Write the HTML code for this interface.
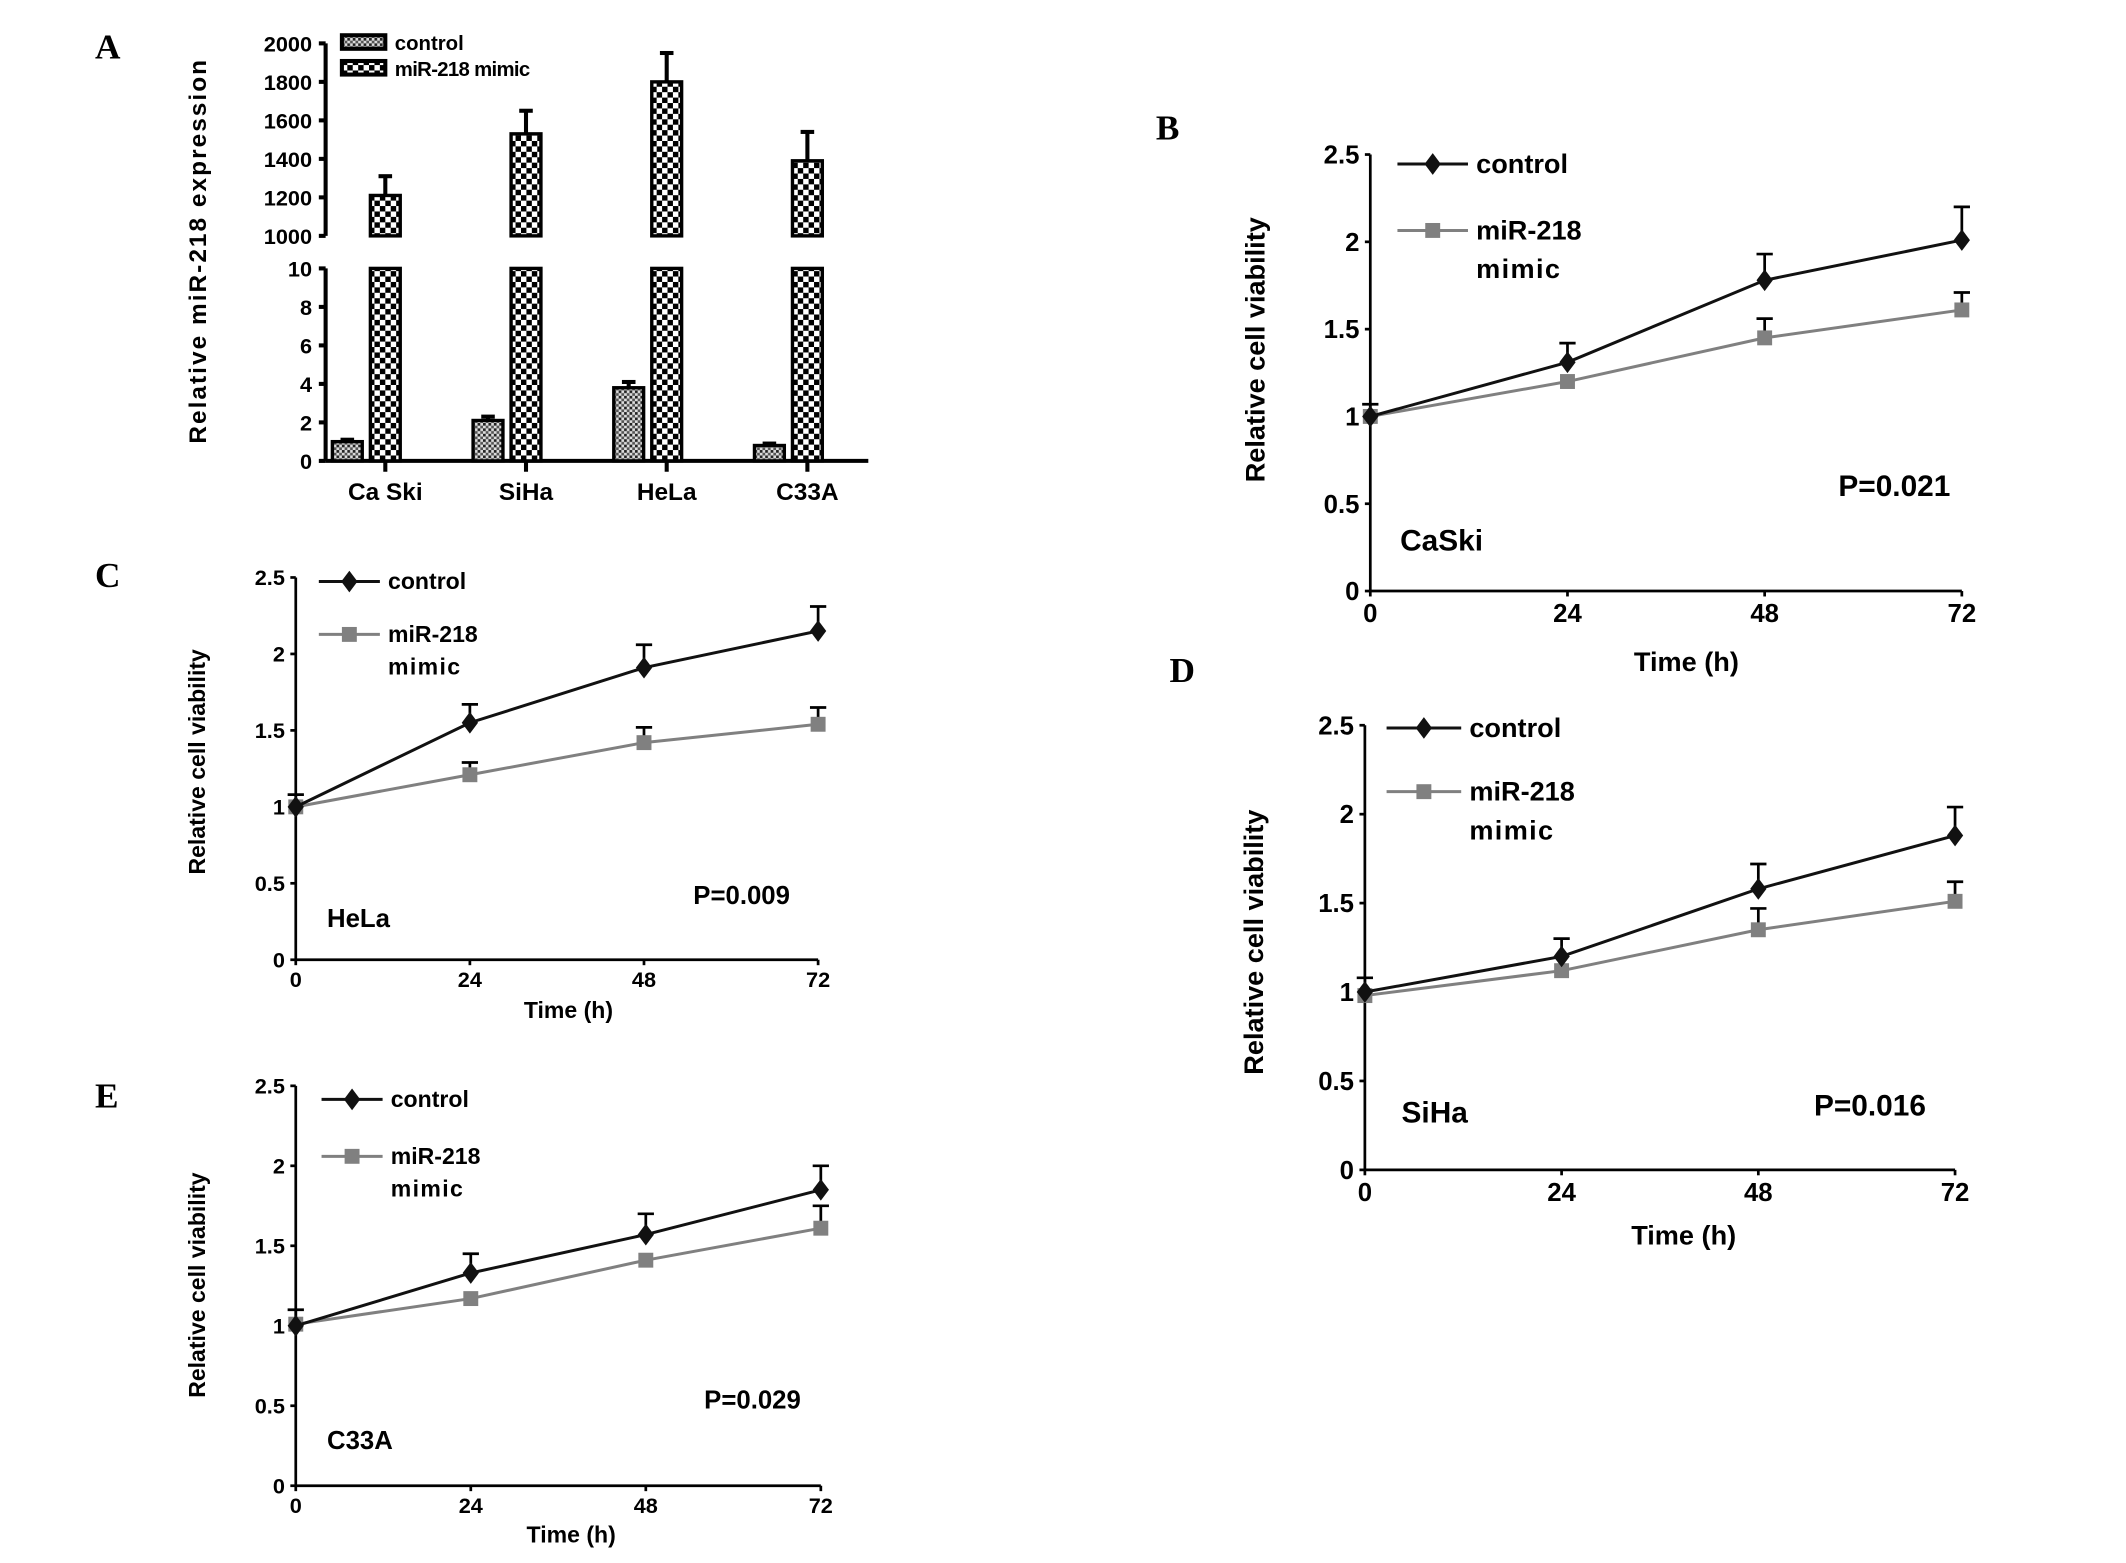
<!DOCTYPE html>
<html><head><meta charset="utf-8"><style>
html,body{margin:0;padding:0;background:#fff;}
svg{display:block;}
text{font-family:"Liberation Sans",Arial,sans-serif;font-weight:bold;}
.pl{font-family:"Liberation Serif","Times New Roman",serif;font-weight:bold;font-size:26px;}
</style></head><body>
<svg id="fig" width="2126" height="1563" viewBox="0 0 1567 1153" preserveAspectRatio="none" xmlns="http://www.w3.org/2000/svg">
<defs>
<pattern id="chk" width="8" height="8" patternUnits="userSpaceOnUse">
<rect width="8" height="8" fill="#fff"/><rect width="4" height="4" fill="#000"/><rect x="4" y="4" width="4" height="4" fill="#000"/>
</pattern>
<pattern id="fine" width="4" height="4" patternUnits="userSpaceOnUse">
<rect width="4" height="4" fill="#ddd"/><rect width="2" height="2" fill="#222"/><rect x="2" y="2" width="2" height="2" fill="#555"/>
</pattern>
</defs>
<g id="panelA"></g>
<g id="panelB"></g>
<g id="panelC"></g>
<g id="panelD"></g>
<g id="panelE"></g>
</svg>
<script>
// Panel A data
const barCategories = ["Ca Ski","SiHa","HeLa","C33A"];
const controlExpr = [1.0, 2.1, 3.8, 0.8];
const controlExprErr = [1.1, 2.3, 4.1, 0.9];
const mimicExpr = [1210, 1530, 1800, 1390];
const mimicExprErr = [1310, 1650, 1950, 1540];
const lowerTicks = [0,2,4,6,8,10];
const upperTicks = [1000,1200,1400,1600,1800,2000];

// Line panel data
const timePoints = [0,24,48,72];
const viabTicks = [0,0.5,1,1.5,2,2.5];
const viabTickLabels = ["0","0.5","1","1.5","2","2.5"];
const caskiControl = [1.0,1.31,1.78,2.01];
const caskiControlErr = [1.07,1.42,1.93,2.2];
const caskiMimic = [1.0,1.2,1.45,1.61];
const caskiMimicErr = [1.0,1.2,1.56,1.71];
const helaControl = [1.0,1.55,1.91,2.15];
const helaControlErr = [1.08,1.67,2.06,2.31];
const helaMimic = [1.0,1.21,1.42,1.54];
const helaMimicErr = [1.0,1.29,1.52,1.65];
const sihaControl = [1.0,1.2,1.58,1.88];
const sihaControlErr = [1.08,1.3,1.72,2.04];
const sihaMimic = [0.98,1.12,1.35,1.51];
const sihaMimicErr = [0.98,1.12,1.47,1.62];
const c33aControl = [1.0,1.33,1.57,1.85];
const c33aControlErr = [1.1,1.45,1.7,2.0];
const c33aMimic = [1.01,1.17,1.41,1.61];
const c33aMimicErr = [1.01,1.17,1.41,1.75];

const NS="http://www.w3.org/2000/svg";
function mk(parent,tag,attrs,txt){const e=document.createElementNS(NS,tag);for(const k in attrs)e.setAttribute(k,attrs[k]);if(txt!==undefined)e.textContent=txt;parent.appendChild(e);return e;}

// ---------- Panel A ----------
(function(){
  const g=document.getElementById('panelA');
  const ax=240, x1=640, y0=340, y10=198, yU0=174, yU1=32;
  const yl=v=>y0-(v/10)*(y0-y10);
  const yu=v=>yU0-((v-1000)/1000)*(yU0-yU1);
  let t=mk(g,'text',{x:70,y:43,class:'pl'},'A');
  
  
  let ln=mk(g,'path',{d:`M${ax} ${y0}V${y10}M${ax} ${yU0}V${yU1}M${ax} ${y0}H${x1}`,stroke:'#000','stroke-width':3,fill:'none'});
  
  
  lowerTicks.forEach(v=>{
    const tk=mk(g,'line',{x1:ax-5,x2:ax,y1:yl(v),y2:yl(v),stroke:'#000','stroke-width':3});
    
    
    const tl=mk(g,'text',{x:ax-10,y:yl(v)+6,'text-anchor':'end','font-size':16},String(v));
    
    
  });
  upperTicks.forEach(v=>{
    const tk=mk(g,'line',{x1:ax-5,x2:ax,y1:yu(v),y2:yu(v),stroke:'#000','stroke-width':3});
    
    
    const tl=mk(g,'text',{x:ax-10,y:yu(v)+6,'text-anchor':'end','font-size':16},String(v));
    
    
  });
  const yt=mk(g,'text',{x:0,y:0,transform:'translate(152,185) rotate(-90)','text-anchor':'middle','font-size':18,'letter-spacing':1.5},'Relative miR-218 expression');
  
  
  const bw=22;
  barCategories.forEach((c,i)=>{
    const cx=ax+44+i*103.7;
    const xc=cx-28;
    const tk=mk(g,'line',{x1:cx,x2:cx,y1:y0,y2:y0+8,stroke:'#000','stroke-width':3});
    
    
    const cl=mk(g,'text',{x:cx,y:369,'text-anchor':'middle','font-size':18},c);
    
    
    const e1=mk(g,'line',{x1:xc,x2:xc,y1:yl(controlExprErr[i]),y2:yl(controlExpr[i]),stroke:'#000','stroke-width':3});
    
    
    const ec=mk(g,'line',{x1:xc-5,x2:xc+5,y1:yl(controlExprErr[i]),y2:yl(controlExprErr[i]),stroke:'#000','stroke-width':3});
    
    
    const b1=mk(g,'rect',{x:xc-bw/2,y:yl(controlExpr[i]),width:bw,height:y0-yl(controlExpr[i]),fill:'url(#fine)',stroke:'#000','stroke-width':2.5});
    
    
    const e2=mk(g,'line',{x1:cx,x2:cx,y1:yu(mimicExprErr[i]),y2:yu(mimicExpr[i]),stroke:'#000','stroke-width':3});
    
    
    const ec2=mk(g,'line',{x1:cx-5,x2:cx+5,y1:yu(mimicExprErr[i]),y2:yu(mimicExprErr[i]),stroke:'#000','stroke-width':3});
    
    
    const b2=mk(g,'rect',{x:cx-bw/2,y:yu(mimicExpr[i]),width:bw,height:yU0-yu(mimicExpr[i]),fill:'url(#chk)',stroke:'#000','stroke-width':2.5});
    
    
    const b3=mk(g,'rect',{x:cx-bw/2,y:y10,width:bw,height:y0-y10,fill:'url(#chk)',stroke:'#000','stroke-width':2.5});
    
    
  });
  const l1=mk(g,'rect',{x:252,y:26,width:32,height:10,fill:'url(#fine)',stroke:'#000','stroke-width':3});
  
  
  const lt1=mk(g,'text',{x:291,y:37,'font-size':15,'font-weight':'normal'},'control');
  
  
  const l2=mk(g,'rect',{x:252,y:45,width:32,height:10,fill:'url(#chk)',stroke:'#000','stroke-width':3});
  
  
  const lt2=mk(g,'text',{x:291,y:56,'font-size':15,'font-weight':'normal','letter-spacing':-0.5},'miR-218 mimic');
  
  
})();

// ---------- Line panels ----------
function linePanel(id,cfg,ctrl,ctrlErr,mim,mimErr){
  const g=document.getElementById(id);
  const {ax,x72,y0,y25,fs,letter,lx,ly,cell,cellX,cellY,p,pX,pY,leg,legMim,ylX,ylY,tX,tY}=cfg;
  const X=v=>ax+(v/72)*(x72-ax);
  const Y=v=>y0-(v/2.5)*(y0-y25);
  const pl=mk(g,'text',{x:lx,y:ly,class:'pl'},letter);
  
  
  const axes=mk(g,'path',{d:`M${ax} ${y25}V${y0}H${x72}`,stroke:'#000','stroke-width':2,fill:'none'});
  
  
  viabTicks.forEach((v,i)=>{
    const tk=mk(g,'line',{x1:ax-4,x2:ax,y1:Y(v),y2:Y(v),stroke:'#000','stroke-width':2});
    
    
    const tl=mk(g,'text',{x:ax-8,y:Y(v)+fs*0.35,'text-anchor':'end','font-size':fs},viabTickLabels[i]);
    
    
  });
  timePoints.forEach(t=>{
    const tk=mk(g,'line',{x1:X(t),x2:X(t),y1:y0,y2:y0+4,stroke:'#000','stroke-width':2});
    
    
    const tl=mk(g,'text',{x:X(t),y:y0+fs+4,'text-anchor':'middle','font-size':fs},String(t));
    
    
  });
  const xt=mk(g,'text',{x:tX,y:tY,'text-anchor':'middle','font-size':fs+1},'Time (h)');
  
  
  const yt=mk(g,'text',{x:0,y:0,transform:`translate(${ylX},${ylY}) rotate(-90)`,'text-anchor':'middle','font-size':fs+1},'Relative cell viability');
  
  
  function series(vals,errs,col,shape,name){
    timePoints.forEach((t,i)=>{
      if(errs[i]>vals[i]+0.001){
        const e=mk(g,'path',{d:`M${X(t)} ${Y(vals[i])}V${Y(errs[i])}M${X(t)-6} ${Y(errs[i])}H${X(t)+6}`,stroke:'#000','stroke-width':2,fill:'none'});
        
        
      }
    });
    const pts=timePoints.map((t,i)=>X(t)+','+Y(vals[i])).join(' ');
    const l=mk(g,'polyline',{points:pts,fill:'none',stroke:col,'stroke-width':2.2});
    
    
    timePoints.forEach((t,i)=>{
      const x=X(t),y=Y(vals[i]);
      let m;
      if(shape==='d') m=mk(g,'path',{d:`M${x} ${y-8}L${x+6} ${y}L${x} ${y+8}L${x-6} ${y}Z`,fill:col});
      else m=mk(g,'rect',{x:x-5.5,y:y-5.5,width:11,height:11,fill:col});
      
      
    });
  }
  series(mim,mimErr,'#808080','s','mimic');
  series(ctrl,ctrlErr,'#111','d','control');
  const L1=mk(g,'path',{d:`M${leg.x1} ${leg.y}H${leg.x2}`,stroke:'#111','stroke-width':2.2});
  
  
  const mx=(leg.x1+leg.x2)/2;
  const D=mk(g,'path',{d:`M${mx} ${leg.y-8}L${mx+6} ${leg.y}L${mx} ${leg.y+8}L${mx-6} ${leg.y}Z`,fill:'#111'});
  
  
  const T1=mk(g,'text',{x:leg.x2+6,y:leg.y+fs*0.35,'font-size':fs+1},'control');
  
  
  const L2=mk(g,'path',{d:`M${leg.x1} ${legMim}H${leg.x2}`,stroke:'#808080','stroke-width':2.2});
  
  
  const S=mk(g,'rect',{x:mx-5.5,y:legMim-5.5,width:11,height:11,fill:'#808080'});
  
  
  const T2=mk(g,'text',{x:leg.x2+6,y:legMim+fs*0.35,'font-size':fs+1},'miR-218');
  
  
  const T3=mk(g,'text',{x:leg.x2+6,y:legMim+fs*0.35+fs*1.5,'font-size':fs+1,'letter-spacing':1},'mimic');
  
  
  const C=mk(g,'text',{x:cellX,y:cellY,'font-size':fs+3},cell);
  
  
  const P=mk(g,'text',{x:pX,y:pY,'font-size':fs+3},p);
  
  
}

linePanel('panelB',{ax:1010,x72:1446,y0:436,y25:114,fs:19,letter:'B',lx:852,ly:103,cell:'CaSki',cellX:1032,cellY:406,p:'P=0.021',pX:1355,pY:366,leg:{x1:1030,x2:1082,y:121},legMim:170,ylX:932,ylY:258,tX:1243,tY:495},caskiControl,caskiControlErr,caskiMimic,caskiMimicErr);
linePanel('panelC',{ax:218,x72:603,y0:708,y25:426,fs:16,letter:'C',lx:70,ly:433,cell:'HeLa',cellX:241,cellY:684,p:'P=0.009',pX:511,pY:667,leg:{x1:235,x2:280,y:429},legMim:468,ylX:151,ylY:562,tX:419,tY:751},helaControl,helaControlErr,helaMimic,helaMimicErr);
linePanel('panelD',{ax:1006,x72:1441,y0:863,y25:535,fs:19,letter:'D',lx:862,ly:503,cell:'SiHa',cellX:1033,cellY:828,p:'P=0.016',pX:1337,pY:823,leg:{x1:1022,x2:1077,y:537},legMim:584,ylX:931,ylY:695,tX:1241,tY:918},sihaControl,sihaControlErr,sihaMimic,sihaMimicErr);
linePanel('panelE',{ax:218,x72:605,y0:1096,y25:801,fs:16,letter:'E',lx:70,ly:817,cell:'C33A',cellX:241,cellY:1069,p:'P=0.029',pX:519,pY:1039,leg:{x1:237,x2:282,y:811},legMim:853,ylX:151,ylY:948,tX:421,tY:1138},c33aControl,c33aControlErr,c33aMimic,c33aMimicErr);
</script>
</body></html>
